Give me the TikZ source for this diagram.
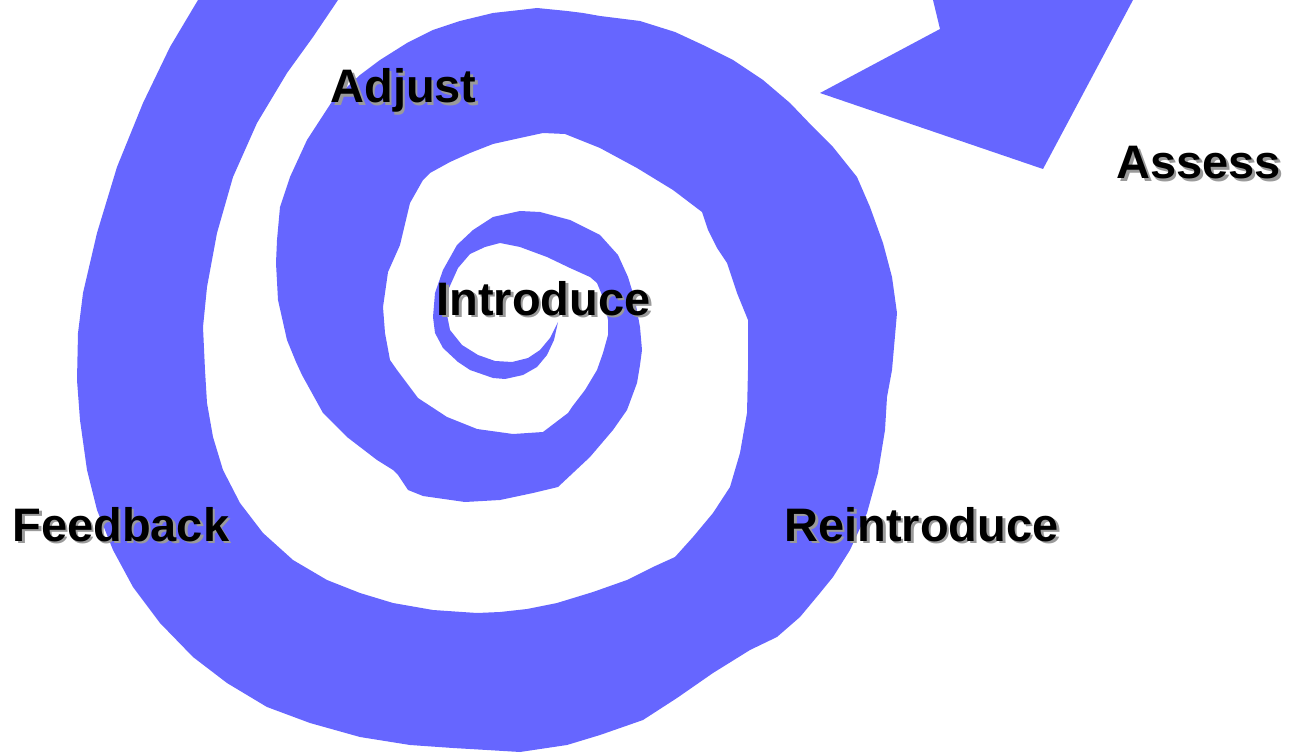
\documentclass[tikz,border=0pt]{standalone}
\usepackage{fontspec}
\setmainfont{Liberation Sans}
\definecolor{spiral}{HTML}{6666FF}
\definecolor{shade}{HTML}{9A9A9A}
% text with a gray drop shadow set in the same box
\newcommand{\shadowed}[1]{\rlap{\kern1.3pt\raisebox{-1.3pt}{\textcolor{shade}{#1}}}#1}

\begin{document}
\begin{tikzpicture}[x=0.5pt, y=-0.5pt,
  lbl/.style={anchor=base west, inner sep=0pt,
    font=\bfseries\fontsize{23.5}{28}\selectfont}]
  \useasboundingbox (0,0) rectangle (1291,754);
  \clip (0,0) rectangle (1291,754);

  % Spiral band: inner edge from the tip outwards, arrow head, outer edge back
  \fill[spiral] plot coordinates {
    (558,322) (550,338) (540,350) (528,358) (512,362) (495,361) (478,355)
    (462,345) (450,330) (446,310) (449,288) (458,268) (470,254) (485,247)
    (500,243) (520,247) (547,257) (570,268) (590,277) (597,283) (604,300)
    (608,320) (608,335) (603,353) (597,370) (585,390) (572,407) (568,413)
    (543,432) (513,434) (477,429) (447,417) (418,398) (397,370) (390,360)
    (385,333) (383,307) (388,272) (400,245) (410,203) (423,180) (430,173)
    (450,162) (470,153) (493,144) (520,138) (543,133) (565,134) (600,148)
    (637,168) (673,190) (702,212) (708,230) (717,248) (727,263) (737,293)
    (748,320) (748,370) (747,413) (740,453) (730,487) (713,513) (693,537)
    (675,557) (653,567) (627,580) (593,592) (557,603) (527,609) (500,612)
    (477,613) (433,610) (393,603) (360,593) (327,580) (293,560) (263,533)
    (240,503) (223,470) (213,437) (207,403) (205,370) (203,327) (207,287)
    (217,233) (233,177) (257,123) (287,73) (313,37) (338,0)
    (338,-30) (933,-30) (933,0)
    (940,29) (820,93) (1043,169) (1133,0)
    (1133,-60) (198,-60) (198,0)
    (170,47) (143,103) (117,167) (97,233) (83,293) (78,333) (77,380)
    (80,420) (87,470) (97,510) (113,550) (133,587) (160,623) (193,657)
    (227,683) (267,707) (310,723) (360,737) (410,745) (453,748) (487,750)
    (520,752) (567,745) (600,735) (643,720) (677,698) (713,673) (750,650)
    (777,637) (800,617) (820,593) (833,577) (850,550) (867,513) (878,473)
    (885,430) (887,397) (892,370) (897,313) (892,277) (883,243) (870,207)
    (857,177) (833,147) (813,127) (790,103) (763,80) (733,60) (703,45)
    (675,32) (640,21) (600,16) (583,13) (567,11) (537,8) (520,10)
    (493,13) (460,21) (433,30) (407,43) (380,60) (360,75) (333,100)
    (307,140) (290,177) (280,207) (277,240) (276,263) (278,300) (287,340)
    (296,362) (302,375) (323,413) (347,437) (377,460) (393,470) (398,475)
    (408,490) (423,496) (465,502) (500,500) (533,493) (558,487) (590,457)
    (613,430) (627,410) (637,383) (640,365) (642,350) (640,327) (635,300)
    (628,277) (618,255) (600,235) (570,220) (540,212) (520,211) (493,217)
    (473,230) (457,245) (443,270) (435,293) (433,317) (435,333) (443,348)
    (458,362) (470,370) (493,378) (505,379) (523,375) (537,367) (547,355)
    (554,340)
  } -- cycle;

  % Labels
  \foreach \name/\x/\y/\txt in {adjust/330/103/Adjust, assess/1116/179/Assess,
      introduce/436/315/Introduce, feedback/12/541/Feedback,
      reintroduce/784/541/Reintroduce} {
    \node[lbl] (\name) at (\x, \y) {\shadowed{\txt}};
  }
\end{tikzpicture}
\end{document}
